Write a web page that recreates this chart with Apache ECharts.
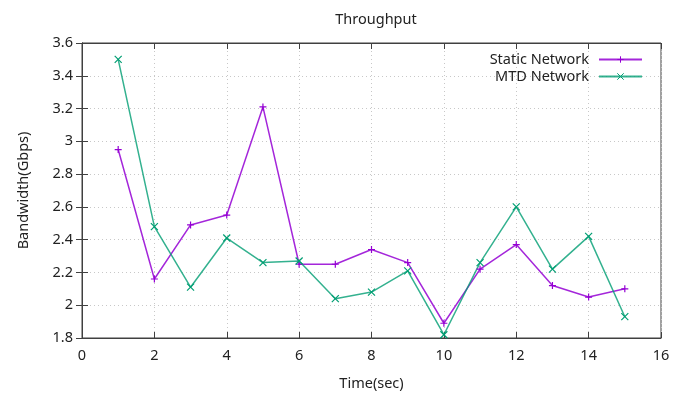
<!DOCTYPE html>
<html>
<head>
<meta charset="utf-8">
<script src="https://cdn.jsdelivr.net/npm/echarts@6/dist/echarts.min.js"></script>
<style>
html,body{margin:0;padding:0;background:#fff;}
#c{width:682px;height:396px;}
</style>
</head>
<body>
<div id="c"></div>
<script>
var timeSec = [1,2,3,4,5,6,7,8,9,10,11,12,13,14,15];
var staticNetwork = [2.95,2.16,2.49,2.55,3.21,2.25,2.25,2.34,2.26,1.89,2.22,2.37,2.12,2.05,2.10];
var mtdNetwork = [3.50,2.48,2.11,2.41,2.26,2.27,2.04,2.08,2.21,1.82,2.26,2.60,2.22,2.42,1.93];
var xTicks = [0,2,4,6,8,10,12,14,16];
var yTicks = [1.8,2.0,2.2,2.4,2.6,2.8,3.0,3.2,3.4,3.6];

var FONT = 'Noto Sans';
var FS = 14.5;
var plusPath = 'path://M5,0 L5,10 M0,5 L10,5';
var crossPath = 'path://M0,0 L10,10 M10,0 L0,10';
var purple = '#9400d3';
var green = '#009e73';

function pairs(xs, ys){ return xs.map(function(x,i){return [x, ys[i]];}); }

var chart = echarts.init(document.getElementById('c'), null, {renderer:'canvas'});
var gridLine = {show:true, lineStyle:{color:'#c8c8c8', type:[1,3], width:1}};
var axisLineStyle = {show:true, lineStyle:{color:'#404040', width:1}};
chart.setOption({
  animation:false,
  backgroundColor:'#fff',
  title:{text:'Throughput', left:371, top:7, textAlign:'center',
    textStyle:{fontFamily:FONT, fontSize:FS, fontWeight:'normal', color:'#222'}},
  legend:{
    orient:'vertical', right:34, top:47, align:'right', itemWidth:43, itemHeight:8, itemGap:2,
    textStyle:{fontFamily:FONT, fontSize:FS, color:'#222', padding:[0,5,0,0]},
    itemStyle:{borderWidth:1},
    data:['Static Network','MTD Network']
  },
  grid:{left:82, right:21, top:43, bottom:58, show:true, borderColor:'#404040', borderWidth:1},
  xAxis:[{
    type:'value', min:0, max:16, interval:2,
    name:'Time(sec)', nameLocation:'middle', nameGap:38,
    nameTextStyle:{fontFamily:FONT, fontSize:FS, color:'#222'},
    axisLine:axisLineStyle,
    axisTick:{show:true, inside:true, length:6, lineStyle:{color:'#404040'}},
    axisLabel:{fontFamily:FONT, fontSize:FS, color:'#222', margin:10},
    splitLine:gridLine
  },{
    type:'value', min:0, max:16, interval:2, position:'top',
    axisLine:axisLineStyle,
    axisTick:{show:true, inside:true, length:6, lineStyle:{color:'#404040'}},
    axisLabel:{show:false}, splitLine:{show:false}
  }],
  yAxis:[{
    type:'value', min:1.8, max:3.6, interval:0.2,
    name:'Bandwidth(Gbps)', nameLocation:'middle', nameGap:51,
    nameTextStyle:{fontFamily:FONT, fontSize:FS, color:'#222'},
    axisLine:axisLineStyle,
    axisTick:{show:true, inside:true, length:6, lineStyle:{color:'#404040'}},
    axisLabel:{fontFamily:FONT, fontSize:FS, color:'#222', margin:9,
      formatter:function(v){ return String(parseFloat(v.toFixed(1))); }},
    splitLine:gridLine
  },{
    type:'value', min:1.8, max:3.6, interval:0.2, position:'right',
    axisLine:axisLineStyle,
    axisTick:{show:true, inside:true, length:6, lineStyle:{color:'#404040'}},
    axisLabel:{show:false}, splitLine:{show:false}
  }],
  series:[{
    name:'Static Network', type:'line', data:pairs(timeSec, staticNetwork),
    symbol:plusPath, symbolSize:7, showAllSymbol:true,
    lineStyle:{color:purple, width:1.5, opacity:0.85},
    itemStyle:{color:purple, borderColor:purple, borderWidth:1.2}
  },{
    name:'MTD Network', type:'line', data:pairs(timeSec, mtdNetwork),
    symbol:crossPath, symbolSize:7, showAllSymbol:true,
    lineStyle:{color:green, width:1.5, opacity:0.8},
    itemStyle:{color:green, borderColor:green, borderWidth:1.2}
  }]
});
</script>
</body>
</html>
